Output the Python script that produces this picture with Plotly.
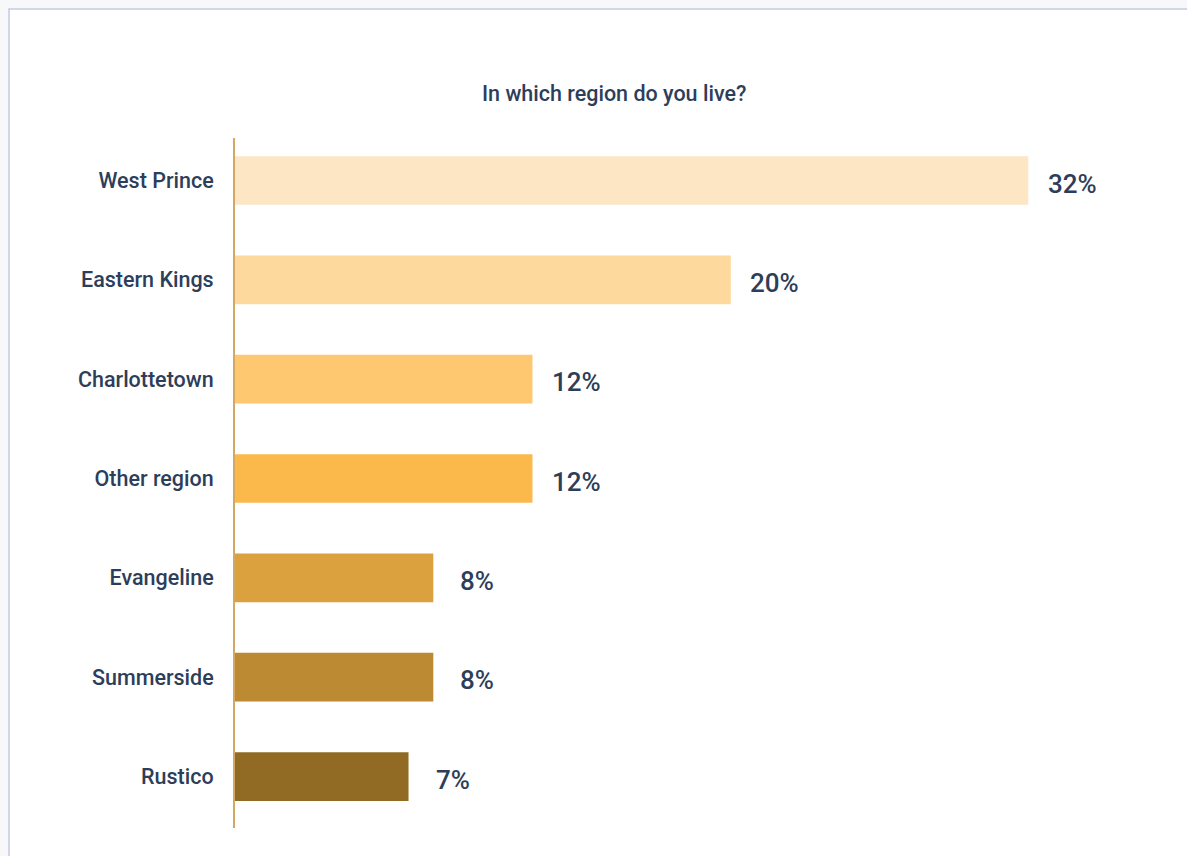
import plotly.graph_objects as go

categories = ["West Prince", "Eastern Kings", "Charlottetown", "Other region",
              "Evangeline", "Summerside", "Rustico"]
values = [32, 20, 12, 12, 8, 8, 7]
value_labels = ["32%", "20%", "12%", "12%", "8%", "8%", "7%"]
bar_colors = ["#fde6c4", "#fdd99e", "#fdc870", "#fbb94b", "#dba13f", "#bb8a33", "#916b23"]
title_text = "In which region do you live?"

TEXT = "#2d3e5a"

fig = go.Figure()
fig.add_trace(go.Bar(
    x=values, y=categories, orientation="h",
    marker=dict(color=bar_colors, line=dict(width=0)),
    width=0.49, hoverinfo="skip",
))

for c, v, t in zip(categories, values, value_labels):
    fig.add_annotation(x=v, y=c, xref="x", yref="y", text=t, showarrow=False,
                       xanchor="center", yanchor="middle", xshift=44, yshift=-3,
                       font=dict(family="Roboto", size=26, color=TEXT, weight=500))

fig.add_annotation(x=0.402, y=1.064, xref="paper", yref="paper", text=title_text,
                   showarrow=False, xanchor="center", yanchor="middle",
                   font=dict(family="Roboto", size=21.5, color=TEXT, weight=500))

# card background
fig.add_shape(type="rect", xref="paper", yref="paper",
              x0=-0.2399, x1=2, y0=-1, y1=1.187,
              fillcolor="white", line=dict(color="#c3cbe0", width=1.5), layer="below")

fig.update_layout(
    width=1187, height=856,
    margin=dict(l=235, r=10, t=138, b=28),
    paper_bgcolor="#f8f8fb", plot_bgcolor="rgba(0,0,0,0)",
    showlegend=False,
    xaxis=dict(range=[0, 38], showgrid=False, zeroline=False, showticklabels=False,
               showline=False),
    yaxis=dict(categoryorder="array", categoryarray=categories,
               range=[6.518, -0.428], showgrid=False, zeroline=False,
               showline=True, linecolor="#d2a862", linewidth=2,
               ticks="", ticklabelstandoff=15,
               tickfont=dict(family="Roboto", size=21.5, color=TEXT, weight=500)),
)

fig.write_html("out.html")
